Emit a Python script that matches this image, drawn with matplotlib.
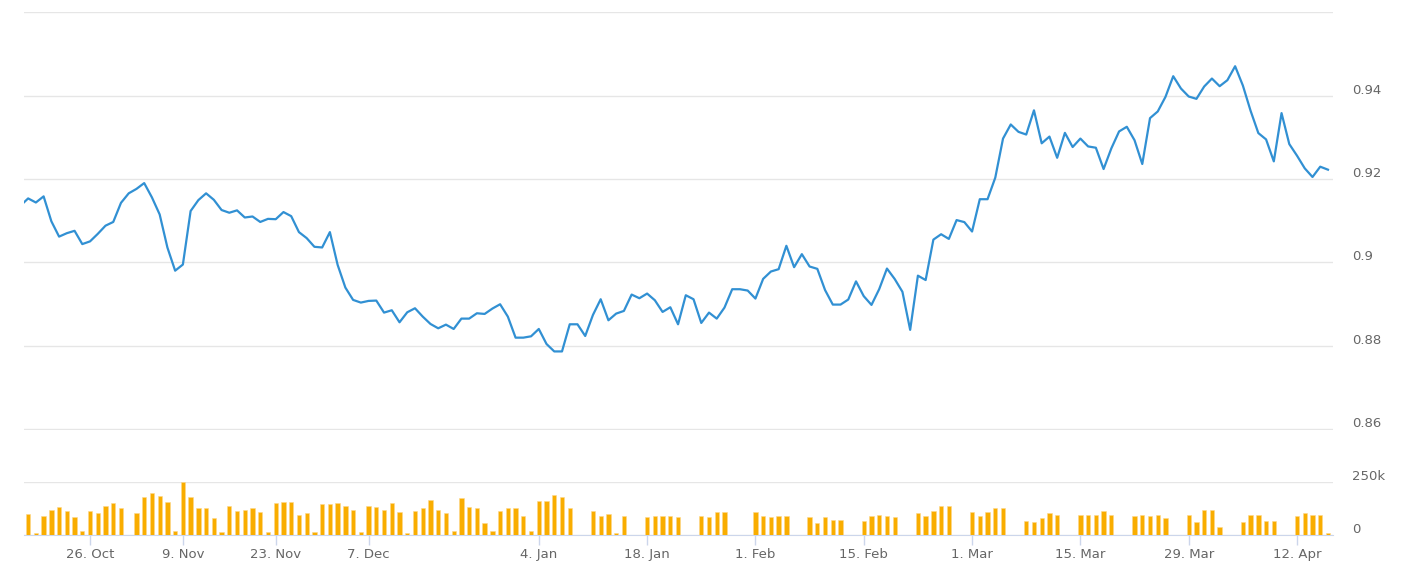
import matplotlib
matplotlib.use('Agg')
import matplotlib.pyplot as plt
from matplotlib.transforms import ScaledTranslation
import numpy as np

# 每个点按序号排列（Highcharts 有序轴：点等距，不按日历天数）
price = [
    0.9136, 0.91535, 0.91437, 0.91584, 0.90988, 0.90620, 0.90702, 0.90759, 0.90441, 0.90506,
    0.90686, 0.90882, 0.90971, 0.91429, 0.91657, 0.91763, 0.91902, 0.91559, 0.91151, 0.90359,
    0.89804, 0.89951, 0.91233, 0.91494, 0.91657, 0.91502, 0.91257, 0.91192, 0.91249, 0.91078,
    0.91102, 0.90971, 0.91045, 0.91037, 0.91208, 0.91110, 0.90728, 0.90584, 0.90376, 0.90360,
    0.90728, 0.89944, 0.89400, 0.89104, 0.89040, 0.89080, 0.89088, 0.88800, 0.88856, 0.88568,
    0.88808, 0.88904, 0.88704, 0.88528, 0.88424, 0.88512, 0.88408, 0.88656, 0.88656, 0.88784,
    0.88768, 0.88896, 0.89000, 0.88704, 0.88200, 0.88200, 0.88232, 0.88408, 0.88048, 0.87870,
    0.87870, 0.88520, 0.88520, 0.88240, 0.88744, 0.89120, 0.88616, 0.88776, 0.88840, 0.89232,
    0.89144, 0.89256, 0.89096, 0.88816, 0.88928, 0.88520, 0.89216, 0.89120, 0.88552, 0.88800,
    0.88656, 0.88920, 0.89360, 0.89360, 0.89328, 0.89136, 0.89608, 0.89784, 0.89840, 0.90400,
    0.89888, 0.90200, 0.89904, 0.89848, 0.89340, 0.88992, 0.88992, 0.89113, 0.89548, 0.89194,
    0.88984, 0.89363, 0.89855, 0.89605, 0.89298, 0.88387, 0.89685, 0.89580, 0.90548, 0.90677,
    0.90565, 0.91016, 0.90968, 0.90742, 0.91516, 0.91516, 0.92032, 0.92968, 0.93306, 0.93129,
    0.93065, 0.93645, 0.92855, 0.93016, 0.92508, 0.93105, 0.92766, 0.92968, 0.92780, 0.92749,
    0.92239, 0.92733, 0.93139, 0.93251, 0.92928, 0.92359, 0.93458, 0.93618, 0.93968, 0.94462,
    0.94167, 0.93976, 0.93920, 0.94215, 0.94406, 0.94223, 0.94367, 0.94701, 0.94239, 0.93633,
    0.93100, 0.92948, 0.92422, 0.93578, 0.92837, 0.92558, 0.92255, 0.92048, 0.92295, 0.92223,
]

# 成交量（单位：千）
volume_k = [
    100, 97.5, 11, 91, 119.5, 132, 115, 85, 19, 115,
    104, 138, 149, 127, 0, 104, 181, 198, 185.5, 155.7,
    19, 250, 179, 126, 126, 78.6, 14, 137, 113, 119.5,
    126, 108.5, 14, 149, 155.7, 154, 96, 102, 14, 144.7,
    144.7, 149, 137, 119.5, 14, 137, 132, 119.5, 149, 108.5,
    9, 115, 126, 166.7, 119.5, 102, 19, 173, 132, 126,
    55, 19, 113, 126, 126, 89.6, 19, 160, 160, 190,
    179, 126, 0, 0, 113, 89.6, 97.5, 9, 89.6, 0,
    0, 83, 89.6, 89.6, 89.6, 83, 0, 0, 89.6, 83,
    107, 107, 0, 0, 0, 107, 89.6, 83, 89.6, 89.6,
    0, 0, 83, 55, 83, 72, 72, 0, 0, 66,
    89.6, 96, 89.6, 83, 0, 0, 102, 89.6, 113, 137,
    137, 0, 0, 107, 89.6, 107, 126, 126, 0, 0,
    66, 60, 78.6, 102, 96, 0, 0, 96, 96, 96,
    113, 96, 0, 0, 89.6, 96, 89.6, 96, 78.6, 0,
    0, 96, 60, 119.5, 119.5, 36, 0, 0, 60, 96,
    96, 66, 66, 0, 0, 89.6, 102, 96, 96, 9,
]

tick_idx = [9, 21, 33, 45, 67, 81, 95, 109, 123, 137, 151, 165]
tick_labels = ['26. Oct', '9. Nov', '23. Nov', '7. Dec', '4. Jan', '18. Jan',
               '1. Feb', '15. Feb', '1. Mar', '15. Mar', '29. Mar', '12. Apr']

price_ticks = [0.86, 0.88, 0.90, 0.92, 0.94, 0.96]
price_tick_labels = ['0.86', '0.88', '0.9', '0.92', '0.94', '']
vol_ticks = [0, 250]
vol_tick_labels = ['0', '250k']

W, H = 1406, 578
fig = plt.figure(figsize=(W / 100, H / 100), dpi=100)
plt.rcParams['font.family'] = ['DejaVu Sans']

left, right = 24, 1333
ax1 = fig.add_axes([left / W, 1 - 429.5 / H, (right - left) / W, (429.5 - 12) / H])
ax2 = fig.add_axes([left / W, 1 - 535 / H, (right - left) / W, (535 - 482) / H])

x = np.arange(len(price))
xlim = (0.465, 169.65)

grid_c = '#e6e6e6'
text_c = '#666666'
axis_c = '#ccd6eb'

# 价格
ax1.plot(x, price, color='#3190d3', lw=1.6, solid_joinstyle='round', zorder=3)
ax1.set_xlim(*xlim)
ax1.set_ylim(0.86, 0.96)
ax1.set_yticks(price_ticks)
ax1.set_yticklabels(price_tick_labels)
ax1.set_xticks([])
ax1.grid(axis='y', color=grid_c, lw=1)

# 成交量
ax2.bar(x, volume_k, width=0.56, color='#f9ad00', edgecolor='#fdd88a', lw=0.4, zorder=3)
ax2.set_xlim(*xlim)
ax2.set_ylim(0, 250)
ax2.set_yticks(vol_ticks)
ax2.set_yticklabels(vol_tick_labels)
ax2.grid(axis='y', color=grid_c, lw=1)
ax2.set_xticks(tick_idx)
ax2.set_xticklabels(tick_labels)

for ax in (ax1, ax2):
    for s in ax.spines.values():
        s.set_visible(False)
    ax.set_axisbelow(True)
    ax.yaxis.tick_right()
    ax.tick_params(axis='y', length=0, pad=14, labelsize=9.5, labelcolor=text_c)
    for lab in ax.get_yticklabels():
        lab.set_horizontalalignment('left')
        lab.set_transform(lab.get_transform() + ScaledTranslation(0, 7 / 100, fig.dpi_scale_trans))

ax2.spines['bottom'].set_visible(True)
ax2.spines['bottom'].set_color(axis_c)
ax2.tick_params(axis='x', length=7.5, width=1, color=axis_c, pad=2,
                labelsize=9.5, labelcolor=text_c)

fig.savefig('out.png', dpi=100, facecolor='white')
